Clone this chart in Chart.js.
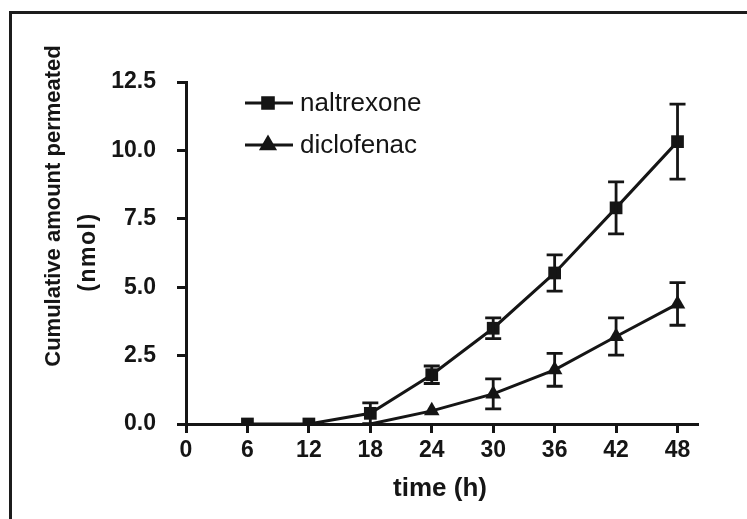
<!DOCTYPE html>
<html>
<head>
<meta charset="utf-8">
<script src="https://cdn.jsdelivr.net/npm/chart.js@4.4.0/dist/chart.umd.min.js"></script>
<style>
  html, body { margin: 0; padding: 0; background: #fff; overflow: hidden; }
  #frame {
    position: absolute; left: 9px; top: 11px; width: 900px; height: 700px;
    border-left: 3px solid #1c1c1c; border-top: 3px solid #1c1c1c;
  }
  #wrap { position: absolute; left: 0; top: 0; width: 747px; height: 519px; }
</style>
</head>
<body>
<div id="frame"></div>
<div id="wrap"><canvas id="permeation" width="747" height="519"></canvas></div>
<script>
// sampling times (h)
const times = [6, 12, 18, 24, 30, 36, 42, 48];

// cumulative amount permeated (nmol), mean and SD
const naltrexone = [0, 0, 0.39, 1.8, 3.5, 5.52, 7.9, 10.32];
const naltrexoneSd = [0, 0, 0.38, 0.32, 0.38, 0.66, 0.95, 1.37];
const diclofenac = [null, null, 0, 0.48, 1.1, 1.98, 3.2, 4.39];
const diclofenacSd = [0, 0, 0, 0, 0.55, 0.6, 0.68, 0.78];

const xTicks = [0, 6, 12, 18, 24, 30, 36, 42, 48];
const yTicks = [0, 2.5, 5, 7.5, 10, 12.5];

const ink = '#151515';
const fontFamily = '"Liberation Sans", Arial, sans-serif';

function points(values) {
  return times.map((t, i) => ({ x: t, y: values[i] })).filter(p => p.y !== null);
}

// vertical error bars with caps, drawn through the chart scales
const errorBars = {
  id: 'errorBars',
  afterDatasetsDraw(chart) {
    const { ctx, chartArea, scales } = chart;
    ctx.save();
    ctx.beginPath();
    ctx.rect(chartArea.left - 20, chartArea.top - 20, chartArea.width + 40, chartArea.height + 20);
    ctx.clip();
    ctx.strokeStyle = ink;
    ctx.lineWidth = 2.8;
    chart.data.datasets.forEach(ds => {
      ds.data.forEach(p => {
        const sd = ds.sd[times.indexOf(p.x)];
        if (!sd) return;
        const x = scales.x.getPixelForValue(p.x);
        const yHi = scales.y.getPixelForValue(p.y + sd);
        const yLo = scales.y.getPixelForValue(p.y - sd);
        ctx.beginPath();
        ctx.moveTo(x, yHi); ctx.lineTo(x, yLo);
        ctx.moveTo(x - 8, yHi); ctx.lineTo(x + 8, yHi);
        ctx.moveTo(x - 8, yLo); ctx.lineTo(x + 8, yLo);
        ctx.stroke();
      });
    });
    ctx.restore();
  }
};

// legend with line + marker samples, and the axis titles
const annotations = {
  id: 'annotations',
  afterDraw(chart) {
    const { ctx, chartArea } = chart;
    const L = chartArea.left, T = chartArea.top;
    ctx.save();
    ctx.fillStyle = ink;
    ctx.strokeStyle = ink;

    chart.data.datasets.forEach((ds, i) => {
      const y = T + 21 + i * 42;
      ctx.lineWidth = 3;
      ctx.beginPath();
      ctx.moveTo(L + 59, y); ctx.lineTo(L + 107, y);
      ctx.stroke();
      Chart.helpers.drawPoint(ctx, {
        pointStyle: ds.pointStyle, radius: ds.legendRadius, borderWidth: 1
      }, L + 82, y);
      ctx.fill();
      ctx.font = '26px ' + fontFamily;
      ctx.textBaseline = 'middle';
      ctx.textAlign = 'left';
      ctx.fillText(ds.label, L + 114, y + 1);
    });

    ctx.textAlign = 'center';
    ctx.textBaseline = 'middle';
    ctx.font = 'bold 26px ' + fontFamily;
    ctx.fillText('time (h)', L + 254, 489);

    ctx.font = 'bold 22px ' + fontFamily;
    ctx.save();
    ctx.translate(54, 206);
    ctx.rotate(-Math.PI / 2);
    ctx.fillText('Cumulative amount permeated', 0, 0);
    ctx.restore();
    ctx.save();
    ctx.font = 'bold 23px ' + fontFamily;
    ctx.translate(89, 252);
    ctx.rotate(-Math.PI / 2);
    ctx.letterSpacing = '1.5px';
    ctx.fillText('(nmol)', 0, 0);
    ctx.restore();

    ctx.restore();
  }
};

const axisStyle = {
  grid: { display: true, drawOnChartArea: false, drawTicks: true, tickLength: 9, tickWidth: 3, tickColor: ink },
  border: { display: true, width: 3, color: ink }
};

new Chart(document.getElementById('permeation'), {
  type: 'line',
  data: {
    datasets: [
      {
        label: 'naltrexone',
        data: points(naltrexone),
        sd: naltrexoneSd,
        borderColor: ink,
        backgroundColor: ink,
        borderWidth: 3,
        pointStyle: 'rect',
        pointRadius: 9,
        legendRadius: 7.5,
        pointBorderWidth: 0,
        clip: { left: 10, top: 10, right: 10, bottom: 0 }
      },
      {
        label: 'diclofenac',
        data: points(diclofenac),
        sd: diclofenacSd,
        borderColor: ink,
        backgroundColor: ink,
        borderWidth: 3,
        pointStyle: 'triangle',
        pointRadius: ctx => (ctx.raw && ctx.raw.y === 0 ? 0 : 9),
        legendRadius: 7.5,
        pointBorderWidth: 0,
        clip: { left: 10, top: 10, right: 10, bottom: 0 }
      }
    ]
  },
  options: {
    responsive: false,
    animation: false,
    devicePixelRatio: 1,
    elements: { line: { tension: 0 } },
    layout: { padding: { left: 0, top: 82, right: 49, bottom: 0 } },
    plugins: { legend: { display: false }, tooltip: { enabled: false } },
    scales: {
      x: {
        type: 'linear',
        min: 0,
        max: 50,
        afterBuildTicks: scale => { scale.ticks = xTicks.map(v => ({ value: v })); },
        afterFit: scale => { scale.height = 95; },
        ticks: { color: ink, padding: 4, maxRotation: 0, font: { family: fontFamily, size: 23, weight: 'bold' } },
        ...axisStyle
      },
      y: {
        type: 'linear',
        min: 0,
        max: 12.5,
        afterBuildTicks: scale => { scale.ticks = yTicks.map(v => ({ value: v })); },
        afterFit: scale => { scale.width = 186; },
        ticks: {
          color: ink, padding: 21,
          font: { family: fontFamily, size: 23, weight: 'bold' },
          callback: v => v.toFixed(1)
        },
        ...axisStyle
      }
    }
  },
  plugins: [errorBars, annotations]
});
</script>
</body>
</html>
